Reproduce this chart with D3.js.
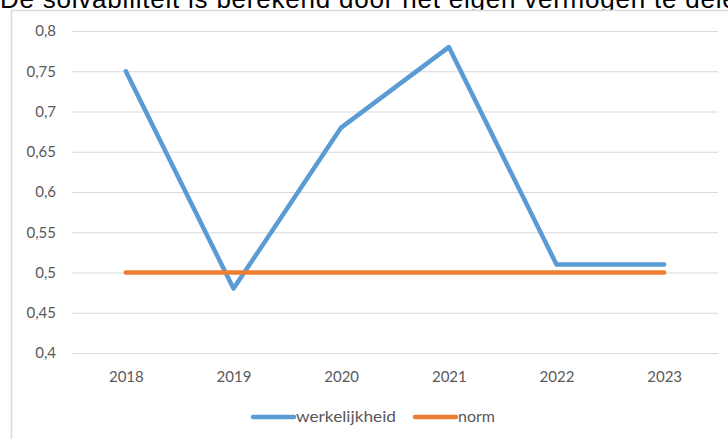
<!DOCTYPE html>
<html>
<head>
<meta charset="utf-8">
<script src="https://cdn.jsdelivr.net/npm/d3@7"></script>
<style>
  html, body { margin: 0; padding: 0; background: #fff; overflow: hidden; }
  svg { display: block; }
</style>
</head>
<body>
<svg id="chart" width="728" height="439"></svg>
<script>
const title = "De solvabiliteit is berekend door het eigen vermogen te delen";
const years = ["2018", "2019", "2020", "2021", "2022", "2023"];
const werkelijkheid = [0.75, 0.48, 0.68, 0.78, 0.51, 0.51];
const norm = [0.5, 0.5, 0.5, 0.5, 0.5, 0.5];
const yTicks = [0.4, 0.45, 0.5, 0.55, 0.6, 0.65, 0.7, 0.75, 0.8];
const seriesNames = ["werkelijkheid", "norm"];
const colors = ["#5B9BD5", "#ED7D31"];

const svg = d3.select("#chart");
const labelFont = "Lato, 'Open Sans', sans-serif";

// title (cropped at top and right, as in the source image)
svg.append("text")
  .attr("x", 0).attr("y", 8)
  .attr("font-family", "'Liberation Sans', Arial, sans-serif")
  .attr("font-size", 26)
  .attr("fill", "#000")
  .attr("textLength", 752)
  .attr("lengthAdjust", "spacing")
  .text(title);

// chart frame
svg.append("rect")
  .attr("x", 11.5).attr("y", 10.5)
  .attr("width", 760).attr("height", 460)
  .attr("fill", "#fff")
  .attr("stroke", "#d9d9d9")
  .attr("stroke-width", 1.5);

const x = d3.scalePoint().domain(years).range([72, 718]).padding(0.5);
const y = d3.scaleLinear().domain([0.4, 0.8]).range([353, 31]);

// gridlines + y labels
const yAxis = d3.axisLeft(y).tickValues(yTicks)
  .tickSize(-(718 - 72))
  .tickPadding(16)
  .tickFormat(d => d3.format(",.2~f")(d).replace(".", ","));
const gy = svg.append("g").attr("transform", "translate(72,0)").call(yAxis);
gy.select(".domain").remove();
gy.selectAll(".tick line").attr("stroke", "#d9d9d9").attr("stroke-width", 1);
gy.selectAll(".tick text")
  .attr("font-family", labelFont).attr("font-size", 15).attr("fill", "#595959");

// x axis labels
const xAxis = d3.axisBottom(x).tickSize(0).tickPadding(18);
const gx = svg.append("g").attr("transform", "translate(0,353)").call(xAxis);
gx.select(".domain").remove();
gx.selectAll(".tick text")
  .attr("font-family", labelFont).attr("font-size", 15).attr("fill", "#595959");

// lines
const line = d3.line().x((d, i) => x(years[i])).y(d => y(d));
[werkelijkheid, norm].forEach((data, k) => {
  svg.append("path")
    .datum(data)
    .attr("d", line)
    .attr("fill", "none")
    .attr("stroke", colors[k])
    .attr("stroke-width", 4.5)
    .attr("stroke-linejoin", "round")
    .attr("stroke-linecap", "round");
});

// legend
const legendItems = [
  { name: seriesNames[0], color: colors[0], x: 253, w: 100 },
  { name: seriesNames[1], color: colors[1], x: 415, w: null }
];
const lg = svg.append("g");
legendItems.forEach(it => {
  lg.append("line")
    .attr("x1", it.x).attr("x2", it.x + 41)
    .attr("y1", 417).attr("y2", 417)
    .attr("stroke", it.color).attr("stroke-width", 4.5)
    .attr("stroke-linecap", "round");
  const t = lg.append("text")
    .attr("x", it.x + 43).attr("y", 422)
    .attr("font-family", labelFont).attr("font-size", 16).attr("fill", "#595959")
    .text(it.name);
  if (it.w) t.attr("textLength", it.w).attr("lengthAdjust", "spacingAndGlyphs");
});
</script>
</body>
</html>
